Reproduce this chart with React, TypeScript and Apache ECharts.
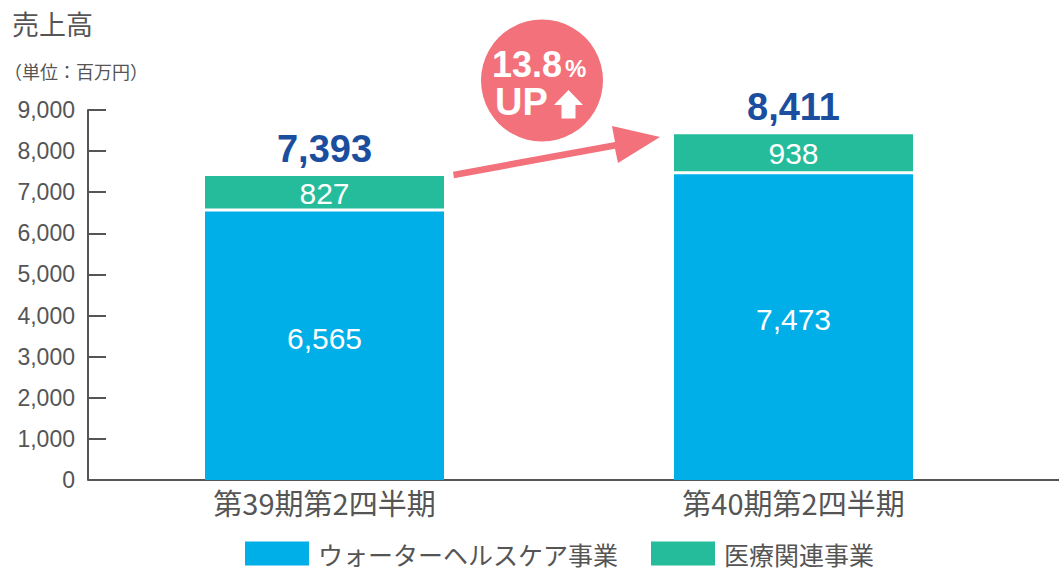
import React, { useEffect, useRef } from "react";
import * as echarts from "echarts";

const categories = ["第39期第2四半期", "第40期第2四半期"];
const waterHealthcare = [6565, 7473];
const medical = [827, 938];
const totals = [7393, 8411];
const seriesNames = ["ウォーターヘルスケア事業", "医療関連事業"];
const yTicks = { min: 0, max: 9000, interval: 1000 };
const growthLabel = "13.8";

const BLUE = "#00aee8";
const GREEN = "#24bc9b";
const NAVY = "#1b4e9e";
const PINK = "#f2717b";
const GRAY = "#555555";
const NUM_FONT = "'Liberation Sans', Arial, sans-serif";
const CJK_FONT = "'Noto Sans CJK JP', sans-serif";

export default function App() {
  const ref = useRef<HTMLDivElement>(null);
  useEffect(() => {
    document.body.style.margin = "0";
    if (!ref.current) return;
    const chart = echarts.init(ref.current, undefined, { renderer: "svg" });
    const fmt = (v: number) => v.toLocaleString("en-US");
    chart.setOption({
      animation: false,
      grid: { left: 90, right: 31, top: 110, bottom: 90 },
      legend: {
        data: seriesNames,
        left: 245,
        top: 541,
        padding: 0,
        itemWidth: 64,
        itemHeight: 24,
        itemGap: 33,
        icon: "rect",
        itemStyle: { borderWidth: 0 },
        textStyle: {
          fontSize: 25,
          lineHeight: 25,
          color: GRAY,
          fontFamily: CJK_FONT,
          padding: [0, 0, 0, 4],
        },
      },
      xAxis: {
        type: "category",
        data: categories,
        axisTick: { show: false },
        axisLine: { lineStyle: { color: GRAY, width: 2 } },
        axisLabel: { fontSize: 29, color: GRAY, fontFamily: CJK_FONT, margin: 7 },
      },
      yAxis: {
        type: "value",
        min: yTicks.min,
        max: yTicks.max,
        interval: yTicks.interval,
        offset: 2,
        splitLine: { show: false },
        axisLine: { show: true, lineStyle: { color: GRAY, width: 2 } },
        axisTick: { show: true, inside: true, length: 18, lineStyle: { color: GRAY, width: 2 } },
        axisLabel: {
          fontSize: 23,
          color: GRAY,
          fontFamily: NUM_FONT,
          margin: 13,
          formatter: (v: number) => fmt(v),
        },
      },
      series: [
        {
          name: seriesNames[0],
          type: "bar",
          stack: "total",
          barWidth: 239,
          data: waterHealthcare,
          itemStyle: { color: BLUE },
          label: {
            show: true,
            position: "inside",
            offset: [0, -7],
            color: "#fff",
            fontSize: 30,
            fontFamily: NUM_FONT,
            formatter: (p: any) => fmt(p.value),
          },
        },
        {
          name: "separator",
          type: "bar",
          stack: "total",
          z: 5,
          data: waterHealthcare.map(() => 0),
          itemStyle: { color: "#fff", borderColor: "#fff", borderWidth: 3 },
          label: { show: false },
        },
        {
          name: seriesNames[1],
          type: "bar",
          stack: "total",
          data: medical,
          itemStyle: { color: GREEN },
          label: {
            show: true,
            position: "inside",
            color: "#fff",
            fontSize: 30,
            fontFamily: NUM_FONT,
            formatter: (p: any) => fmt(p.value),
          },
        },
        {
          name: "total",
          type: "bar",
          stack: "total",
          data: totals.map(() => 0),
          itemStyle: { color: "transparent" },
          label: {
            show: true,
            position: "top",
            distance: 8,
            color: NAVY,
            fontSize: 38,
            fontWeight: "bold",
            fontFamily: NUM_FONT,
            formatter: (p: any) => fmt(totals[p.dataIndex]),
          },
        },
      ],
      graphic: [
        {
          type: "line",
          shape: { x1: 1027, y1: 480, x2: 1059, y2: 480 },
          style: { stroke: GRAY, lineWidth: 2 },
        },
        {
          type: "text",
          left: 12,
          top: 10,
          style: { text: "売上高", fontSize: 27, fill: GRAY, fontFamily: CJK_FONT },
        },
        {
          type: "text",
          left: 4,
          top: 62,
          style: { text: "（単位：百万円）", fontSize: 18, fill: GRAY, fontFamily: CJK_FONT },
        },
        {
          type: "polygon",
          shape: {
            points: [
              [453, 171.7],
              [615, 141.9],
              [612, 126],
              [660, 137],
              [618, 163],
              [615, 148.7],
              [454, 178.3],
            ],
          },
          style: { fill: PINK },
        },
        {
          type: "circle",
          shape: { cx: 542, cy: 80.5, r: 61 },
          style: { fill: PINK },
        },
        {
          type: "text",
          x: 492,
          y: 64,
          style: {
            text: growthLabel,
            fontSize: 36,
            fontWeight: "bold",
            fill: "#fff",
            fontFamily: NUM_FONT,
            verticalAlign: "middle",
            align: "left",
          },
        },
        {
          type: "text",
          x: 565,
          y: 68,
          style: {
            text: "%",
            fontSize: 24,
            fontWeight: "bold",
            fill: "#fff",
            fontFamily: NUM_FONT,
            verticalAlign: "middle",
            align: "left",
          },
        },
        {
          type: "text",
          x: 495,
          y: 102,
          style: {
            text: "UP",
            fontSize: 38,
            fontWeight: "bold",
            fill: "#fff",
            fontFamily: NUM_FONT,
            verticalAlign: "middle",
            align: "left",
          },
        },
        {
          type: "polygon",
          shape: {
            points: [
              [568.5, 90],
              [583, 105],
              [575.5, 105],
              [575.5, 118.5],
              [561.5, 118.5],
              [561.5, 105],
              [554, 105],
            ],
          },
          style: { fill: "#fff" },
        },
      ],
    });
    return () => chart.dispose();
  }, []);
  return <div ref={ref} style={{ width: 1059, height: 570 }} />;
}
